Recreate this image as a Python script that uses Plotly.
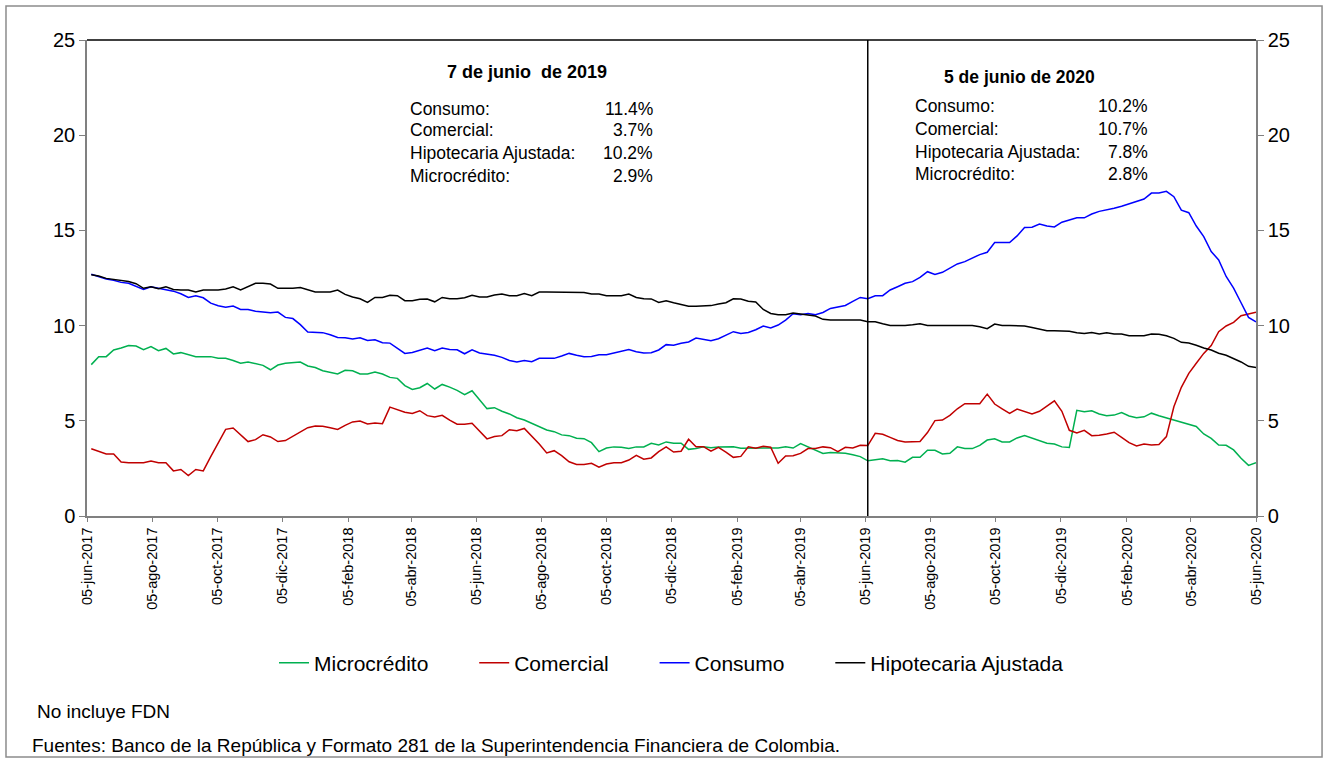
import pandas as pd
import plotly.graph_objects as go

# weekly data (fridays) from 9-jun-2017 to 5-jun-2020
fechas = pd.date_range("2017-06-09", "2020-06-05", freq="7D")

microcredito = [
    7.95, 8.37, 8.37, 8.72, 8.82, 8.95, 8.93, 8.74, 8.9, 8.68,
    8.8, 8.51, 8.58, 8.47, 8.37, 8.37, 8.37, 8.28, 8.28, 8.17,
    8.02, 8.09, 8.02, 7.91, 7.68, 7.93, 8.02, 8.04, 8.09, 7.88,
    7.8, 7.63, 7.55, 7.46, 7.65, 7.63, 7.46, 7.46, 7.56, 7.46,
    7.28, 7.23, 6.85, 6.65, 6.74, 6.96, 6.67, 6.91, 6.77, 6.6,
    6.37, 6.58, 6.11, 5.64, 5.69, 5.5, 5.36, 5.16, 5.04, 4.87,
    4.68, 4.52, 4.43, 4.26, 4.22, 4.08, 4.06, 3.85, 3.38, 3.57,
    3.63, 3.61, 3.54, 3.63, 3.63, 3.82, 3.73, 3.89, 3.82, 3.82,
    3.5, 3.54, 3.64, 3.59, 3.63, 3.64, 3.64, 3.56, 3.56, 3.56,
    3.56, 3.56, 3.57, 3.63, 3.57, 3.8, 3.64, 3.47, 3.28, 3.33,
    3.31, 3.29, 3.22, 3.12, 2.9, 2.95, 3.0, 2.9, 2.92, 2.83,
    3.08, 3.08, 3.45, 3.45, 3.26, 3.29, 3.63, 3.54, 3.54, 3.71,
    3.99, 4.06, 3.89, 3.89, 4.1, 4.22, 4.08, 3.97, 3.82, 3.78,
    3.63, 3.6, 5.55, 5.48, 5.53, 5.36, 5.27, 5.3, 5.43, 5.25,
    5.16, 5.21, 5.4, 5.27, 5.16, 5.01, 4.9, 4.82, 4.7, 4.31,
    4.08, 3.73, 3.71, 3.47, 3.03, 2.66, 2.8,
]

comercial = [
    3.53, 3.38, 3.26, 3.26, 2.84, 2.8, 2.8, 2.8, 2.89, 2.8,
    2.8, 2.37, 2.44, 2.12, 2.44, 2.37, 3.12, 3.82, 4.55, 4.62,
    4.26, 3.91, 4.01, 4.27, 4.15, 3.91, 3.96, 4.2, 4.43, 4.64,
    4.73, 4.71, 4.64, 4.55, 4.76, 4.94, 4.99, 4.83, 4.89, 4.85,
    5.72, 5.6, 5.45, 5.39, 5.53, 5.27, 5.2, 5.29, 5.03, 4.82,
    4.82, 4.87, 4.47, 4.05, 4.17, 4.22, 4.53, 4.48, 4.6, 4.2,
    3.78, 3.31, 3.43, 3.17, 2.85, 2.71, 2.71, 2.77, 2.56, 2.73,
    2.8, 2.8, 2.94, 3.19, 2.98, 3.05, 3.38, 3.63, 3.36, 3.4,
    4.03, 3.64, 3.64, 3.4, 3.61, 3.36, 3.08, 3.13, 3.63, 3.56,
    3.66, 3.61, 2.77, 3.15, 3.17, 3.29, 3.54, 3.54, 3.63, 3.59,
    3.38, 3.61, 3.57, 3.71, 3.7, 4.34, 4.29, 4.13, 3.97, 3.89,
    3.89, 3.91, 4.38, 5.01, 5.04, 5.29, 5.63, 5.9, 5.9, 5.9,
    6.4, 5.88, 5.63, 5.39, 5.62, 5.51, 5.36, 5.5, 5.8, 6.05,
    5.5, 4.5, 4.36, 4.5, 4.22, 4.24, 4.31, 4.4, 4.13, 3.85,
    3.68, 3.78, 3.73, 3.76, 4.17, 5.74, 6.76, 7.49, 8.02, 8.54,
    8.95, 9.68, 9.98, 10.17, 10.52, 10.63, 10.7,
]

consumo = [
    12.7, 12.57, 12.45, 12.38, 12.27, 12.22, 12.08, 11.9, 12.04, 11.96,
    11.88, 11.81, 11.67, 11.48, 11.57, 11.46, 11.18, 11.04, 10.97, 11.03,
    10.85, 10.85, 10.75, 10.73, 10.68, 10.71, 10.43, 10.37, 10.05, 9.66,
    9.66, 9.63, 9.52, 9.38, 9.36, 9.3, 9.36, 9.22, 9.26, 9.1,
    9.08, 8.8, 8.54, 8.59, 8.7, 8.82, 8.68, 8.82, 8.75, 8.73,
    8.52, 8.73, 8.56, 8.51, 8.44, 8.33, 8.17, 8.09, 8.17, 8.1,
    8.28, 8.28, 8.28, 8.4, 8.54, 8.44, 8.37, 8.38, 8.47, 8.47,
    8.56, 8.63, 8.74, 8.63, 8.56, 8.58, 8.72, 9.0, 8.97, 9.07,
    9.14, 9.35, 9.26, 9.21, 9.31, 9.5, 9.68, 9.58, 9.64, 9.78,
    9.98, 9.88, 10.03, 10.29, 10.62, 10.57, 10.64, 10.57, 10.69, 10.9,
    10.97, 11.06, 11.27, 11.48, 11.41, 11.57, 11.57, 11.87, 12.04, 12.22,
    12.31, 12.53, 12.83, 12.68, 12.8, 13.02, 13.24, 13.36, 13.55, 13.73,
    13.85, 14.36, 14.36, 14.36, 14.71, 15.15, 15.17, 15.33, 15.23, 15.18,
    15.43, 15.55, 15.66, 15.66, 15.86, 16.0, 16.07, 16.16, 16.27, 16.39,
    16.55, 16.65, 16.96, 16.96, 17.05, 16.77, 16.06, 15.93, 15.23, 14.67,
    13.89, 13.45, 12.58, 11.97, 11.2, 10.43, 10.2,
]

hipotecaria = [
    12.67, 12.6, 12.48, 12.43, 12.39, 12.32, 12.2, 11.96, 12.04, 11.94,
    12.04, 11.9, 11.87, 11.87, 11.76, 11.87, 11.87, 11.87, 11.92, 12.04,
    11.87, 12.04, 12.22, 12.22, 12.18, 11.96, 11.96, 11.96, 12.0, 11.87,
    11.76, 11.76, 11.76, 11.87, 11.64, 11.5, 11.41, 11.22, 11.48, 11.48,
    11.59, 11.57, 11.31, 11.31, 11.38, 11.4, 11.25, 11.48, 11.41, 11.41,
    11.46, 11.59, 11.5, 11.5, 11.61, 11.66, 11.57, 11.57, 11.68, 11.57,
    11.76, 11.76, 11.76, 11.76, 11.76, 11.76, 11.74, 11.66, 11.66, 11.57,
    11.57, 11.57, 11.66, 11.48, 11.41, 11.4, 11.22, 11.31, 11.2, 11.1,
    11.02, 11.02, 11.02, 11.05, 11.13, 11.2, 11.41, 11.4, 11.28, 11.24,
    10.85, 10.64, 10.57, 10.57, 10.66, 10.62, 10.57, 10.5, 10.33, 10.29,
    10.29, 10.29, 10.29, 10.29, 10.2, 10.2, 10.1, 10.01, 10.01, 10.01,
    10.05, 10.1, 10.01, 10.01, 10.01, 10.01, 10.01, 10.01, 10.01, 9.94,
    9.84, 10.08, 10.01, 10.01, 10.01, 9.98, 9.9, 9.8, 9.73, 9.73,
    9.73, 9.7, 9.63, 9.58, 9.64, 9.56, 9.63, 9.56, 9.56, 9.47,
    9.47, 9.47, 9.56, 9.55, 9.47, 9.33, 9.12, 9.09, 8.97, 8.82,
    8.72, 8.55, 8.44, 8.28, 8.09, 7.86, 7.8,
]

# x ticks every two months, on the 5th
tick_fechas = pd.date_range("2017-06-01", "2020-06-01", freq="2MS") + pd.Timedelta(days=4)
meses = ["ene", "feb", "mar", "abr", "may", "jun", "jul", "ago", "sep", "oct", "nov", "dic"]
tick_textos = [f"05-{meses[d.month - 1]}-{d.year}" for d in tick_fechas]

corte_1 = "2019-06-07"
resumen_1 = ["Consumo:", "Comercial:", "Hipotecaria Ajustada:", "Microcrédito:"]
valores_1 = ["11.4%", "3.7%", "10.2%", "2.9%"]
valores_2 = ["10.2%", "10.7%", "7.8%", "2.8%"]

FONT = "Arial, Liberation Sans, sans-serif"
PAD = "\u00a0" * 7  # extra room between legend entries

fig = go.Figure()

series = [
    ("Microcrédito" + PAD, microcredito, "#00b050"),
    ("Comercial" + PAD, comercial, "#c00000"),
    ("Consumo" + PAD, consumo, "#0000ff"),
    ("Hipotecaria Ajustada", hipotecaria, "#000000"),
]
for nombre, valores, color in series:
    fig.add_trace(go.Scatter(
        x=fechas, y=valores, mode="lines", name=nombre,
        line=dict(color=color, width=1.5)
    ))

# invisible trace so the right axis gets drawn
fig.add_trace(go.Scatter(
    x=fechas, y=hipotecaria, yaxis="y2", mode="lines",
    line=dict(width=0), opacity=0, showlegend=False, hoverinfo="skip"
))

fig.update_layout(
    width=1329, height=759,
    margin=dict(l=87, r=73, t=40, b=243),
    paper_bgcolor="white", plot_bgcolor="white",
    font=dict(family=FONT, color="black"),
    xaxis=dict(
        type="date",
        range=["2017-06-05", "2020-06-05"],
        tickvals=list(tick_fechas), ticktext=tick_textos,
        tickangle=-90, tickfont=dict(size=14.5),
        showline=True, linecolor="#808080", linewidth=1.5,
        ticks="outside", ticklen=4, tickcolor="#808080",
        showgrid=False, zeroline=False,
    ),
    yaxis=dict(
        range=[0, 25], dtick=5, tickfont=dict(size=20),
        showline=True, linecolor="#808080", linewidth=1.5,
        ticks="outside", ticklen=6, tickcolor="#808080",
        showgrid=False, zeroline=False,
    ),
    yaxis2=dict(
        range=[0, 25], dtick=5, tickfont=dict(size=20),
        overlaying="y", side="right",
        showline=True, linecolor="#808080", linewidth=1.5,
        ticks="outside", ticklen=6, tickcolor="#808080",
        showgrid=False, zeroline=False,
    ),
    legend=dict(
        orientation="h", x=0.5, xanchor="center", y=-0.309, yanchor="middle",
        font=dict(size=21), bgcolor="rgba(0,0,0,0)",
    ),
    showlegend=True,
)

# top border and cut-off line
fig.add_shape(type="line", xref="paper", yref="paper", x0=0, x1=1, y0=1, y1=1,
              line=dict(color="black", width=1.5))
fig.add_shape(type="line", xref="x", yref="paper", x0=corte_1, x1=corte_1, y0=0, y1=1,
              line=dict(color="black", width=1.5))
# outer frame
fig.add_shape(type="rect", xref="paper", yref="paper",
              x0=-0.0693, x1=1.0565, y0=-0.5063, y1=1.0714,
              line=dict(color="#8c8c8c", width=1.5))


def nota(texto, x, y, anchor, size):
    fig.add_annotation(text=texto, xref="paper", yref="paper", x=x, y=y,
                       xanchor=anchor, yanchor="middle", showarrow=False,
                       font=dict(size=size))


# summary boxes
nota("<b>7 de junio  de 2019</b>", 0.3764, 0.9328, "center", 18)
nota("<b>5 de junio de 2020</b>", 0.798, 0.9223, "center", 17.5)
filas_1 = [0.855, 0.811, 0.7626, 0.7143]
filas_2 = [0.8613, 0.813, 0.7647, 0.7185]
for etiqueta, v1, v2, y1, y2 in zip(resumen_1, valores_1, valores_2, filas_1, filas_2):
    nota(etiqueta, 0.2746, y1, "left", 17.5)
    nota(v1, 0.4859, y1, "right", 17.5)
    nota(etiqueta, 0.7066, y2, "left", 17.5)
    nota(v2, 0.9093, y2, "right", 17.5)

# footnotes
nota("No incluye FDN", -0.0445, -0.4097, "left", 19)
nota("Fuentes: Banco de la República y Formato 281 de la Superintendencia Financiera de Colombia.",
     -0.0488, -0.4811, "left", 19)

fig.write_html("out.html", config={"displayModeBar": False},
               post_script="document.body.style.margin='0';")
